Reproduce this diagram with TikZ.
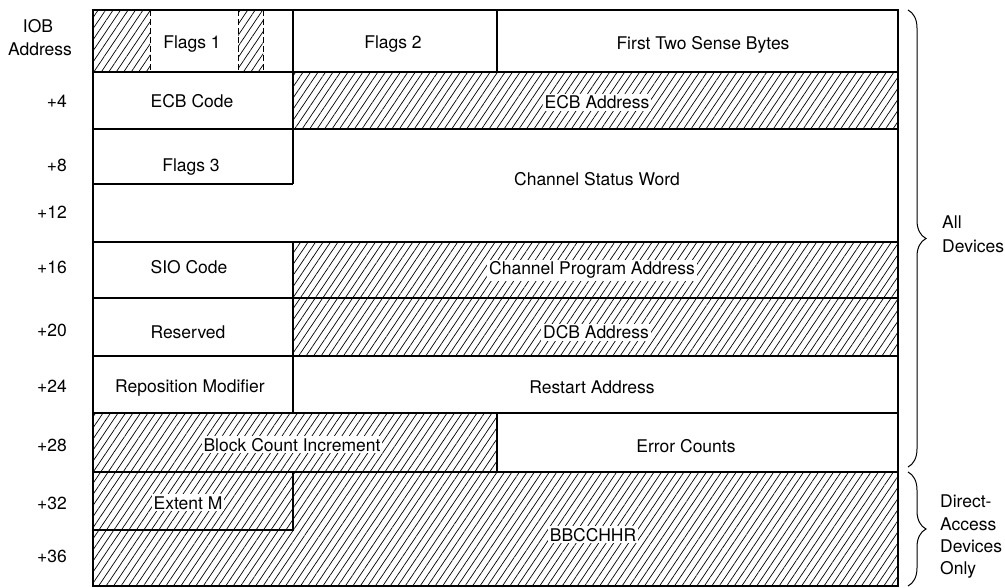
\documentclass[tikz,border=0pt]{standalone}
\usepackage{fontspec}
\setmainfont{TeX Gyre Heros}
\usetikzlibrary{patterns.meta,decorations.pathreplacing}
\begin{document}
\begin{tikzpicture}[x=1pt,y=-1pt,
  hatch/.style={pattern={Lines[angle=56,distance=6.2pt,line width=0.7pt]}},
  txt/.style={font=\fontsize{17.5}{21}\selectfont, inner sep=2pt, anchor=base},
  ko/.style={txt, fill=white},
  lbl/.style={font=\fontsize{17.5}{21}\selectfont, anchor=base east, inner sep=0pt},
  side/.style={font=\fontsize{17.5}{21}\selectfont, anchor=base west, inner sep=0pt},
  frame/.style={line width=1.1pt},
  dsh/.style={line width=0.9pt, dash pattern=on 6pt off 3pt},
  brc/.style={line width=1pt, decorate, decoration={brace, amplitude=18pt}}]
\useasboundingbox (0,0) rectangle (1005,588);
% hatched areas
\fill[hatch] (93,10) rectangle (150,72);
\fill[hatch] (238,10) rectangle (263,72);
\fill[hatch] (293,72) rectangle (898,129);
\fill[hatch] (293,242) rectangle (898,356);
\fill[hatch] (93,413) rectangle (497,472);
\fill[hatch] (93,472) rectangle (898,586);
% lines
\draw[frame] (93,10) rectangle (898,586);
\foreach \y in {72,129,242,298,356,413,472} \draw[frame] (93,\y) -- (898,\y);
\draw[frame] (93,184) -- (293,184);
\draw[frame] (293,10) -- (293,184);
\draw[frame] (497,10) -- (497,72);
\draw[frame] (293,242) -- (293,413);
\draw[frame] (497,413) -- (497,472);
\draw[frame] (293,472) -- (293,530) -- (93,530);
\draw[dsh] (150,10) -- (150,72);
\draw[dsh] (238,10) -- (238,72);
\draw[dsh] (263,10) -- (263,72);
% field texts (baseline = centre + 6)
\node[txt] (f1) at (192,49) {Flags 1};
\node[txt] (f2) at (393,49) {Flags 2};
\node[txt] (sense) at (703,50) {First Two Sense Bytes};
\node[txt] (ecbc) at (192,108) {ECB Code};
\node[ko] (ecba) at (597,109) {ECB Address};
\node[txt] (f3) at (191,172) {Flags 3};
\node[txt] (csw) at (597,186) {Channel Status Word};
\node[txt] (sio) at (189,274) {SIO Code};
\node[ko] (cpa) at (592,275) {Channel Program Address};
\node[txt] (res) at (188,338) {Reserved};
\node[ko] (dcb) at (596,339) {DCB Address};
\node[txt] (rep) at (190,392) {Reposition Modifier};
\node[txt] (rst) at (592,393) {Restart Address};
\node[ko] (bci) at (292,451) {Block Count Increment};
\node[txt] (err) at (686,452) {Error Counts};
\node[ko] (ext) at (188,509) {Extent M};
\node[ko] (bb) at (593,541) {BBCCHHR};
% left labels
\node[txt, inner sep=0pt] (iob) at (38,33) {IOB};
\node[txt, inner sep=0pt] (addr) at (40,56) {Address};
\node[lbl] (a4) at (67,108) {+4};
\node[lbl] (a8) at (67,172) {+8};
\node[lbl] (a12) at (67,219) {+12};
\node[lbl] (a16) at (67,274) {+16};
\node[lbl] (a20) at (67,337) {+20};
\node[lbl] (a24) at (67,392) {+24};
\node[lbl] (a28) at (67,451) {+28};
\node[lbl] (a32) at (67,509) {+32};
\node[lbl] (a36) at (67,562) {+36};
% braces
\coordinate (b1s) at (908,10);
\coordinate (b1e) at (908,467);
\coordinate (b2s) at (908,472);
\coordinate (b2e) at (908,586);
\draw[brc] (b1s) -- (b1e);
\draw[brc] (b2s) -- (b2e);
\node[side] (all1) at (942,229) {All};
\node[side] (all2) at (942,253) {Devices};
\node[side] (da1) at (940,507) {Direct-};
\node[side] (da2) at (940,530) {Access};
\node[side] (da3) at (940,552) {Devices};
\node[side] (da4) at (940,574) {Only};
\end{tikzpicture}
\end{document}
